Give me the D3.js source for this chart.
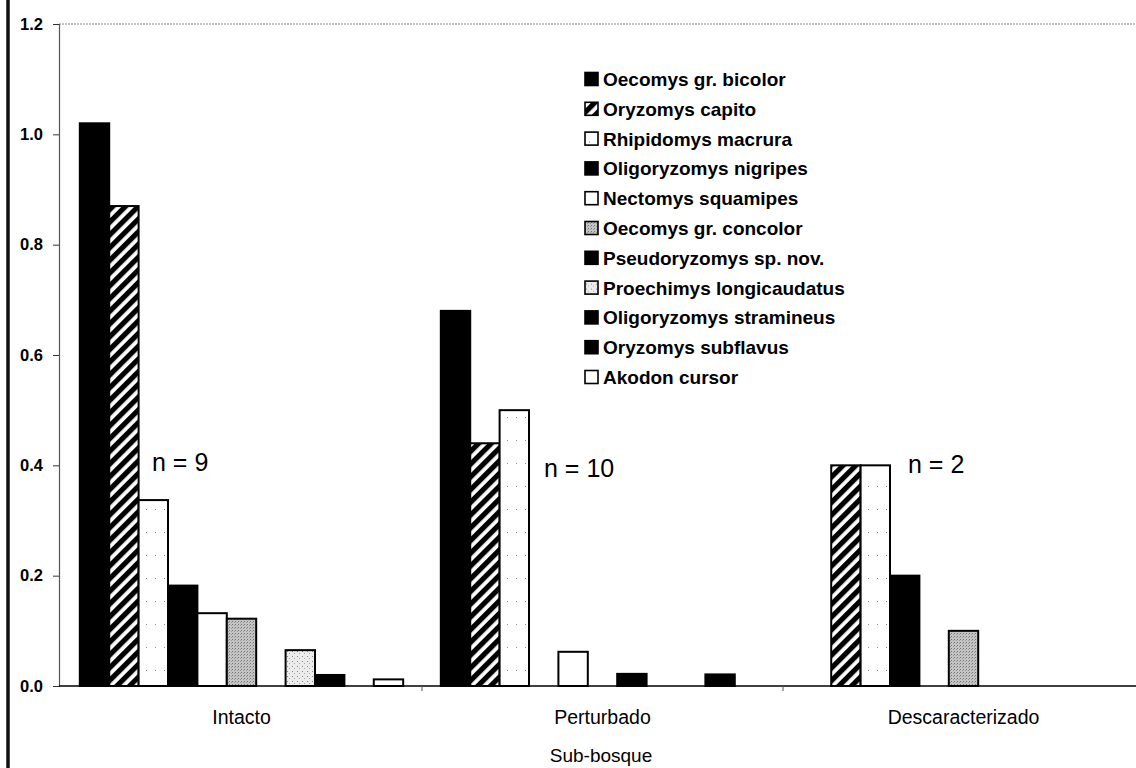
<!DOCTYPE html>
<html><head><meta charset="utf-8">
<script src="https://cdn.jsdelivr.net/npm/d3@7"></script>
<style>
body{margin:0;background:#fff;}
svg{display:block;}
text{font-family:"Liberation Sans",Arial,sans-serif;fill:#000;}
</style></head>
<body>
<svg id="chart" width="1136" height="768"></svg>
<script>
const categories = ["Intacto","Perturbado","Descaracterizado"];
const species = ["Oecomys gr. bicolor","Oryzomys capito","Rhipidomys macrura","Oligoryzomys nigripes","Nectomys squamipes","Oecomys gr. concolor","Pseudoryzomys sp. nov.","Proechimys longicaudatus","Oligoryzomys stramineus","Oryzomys subflavus","Akodon cursor"];
const intacto = [1.02,0.87,0.337,0.182,0.132,0.122,0,0.065,0.02,0,0.012];
const perturbado = [0.68,0.44,0.5,0,0.062,0,0.022,0,0,0.021,0];
const descaracterizado = [0,0.4,0.4,0.2,0,0.1,0,0,0,0,0];
const nLabels = ["n = 9","n = 10","n = 2"];
const yTicks = [0,0.2,0.4,0.6,0.8,1.0,1.2];
const axisTitle = "Sub-bosque";

const seriesValues = [intacto, perturbado, descaracterizado];
const fills = ["#000","url(#hatch)","url(#sparse)","#000","#fff","url(#grey)","#000","url(#lightdots)","#000","#000","#fff"];

const svg = d3.select("#chart");
const defs = svg.append("defs");
const h = defs.append("pattern").attr("id","hatch").attr("patternUnits","userSpaceOnUse")
  .attr("width",9).attr("height",9).attr("patternTransform","rotate(45)");
h.append("rect").attr("width",9).attr("height",9).attr("fill","#fff");
h.append("rect").attr("width",5.2).attr("height",9).attr("fill","#000");
const sp = defs.append("pattern").attr("id","sparse").attr("patternUnits","userSpaceOnUse").attr("width",9).attr("height",23);
sp.append("rect").attr("width",9).attr("height",23).attr("fill","#fff");
sp.append("rect").attr("x",4).attr("y",3).attr("width",1).attr("height",1).attr("fill","#888");
const g = defs.append("pattern").attr("id","grey").attr("patternUnits","userSpaceOnUse").attr("width",3).attr("height",3);
g.append("rect").attr("width",3).attr("height",3).attr("fill","#c4c4c4");
g.append("rect").attr("x",0).attr("y",0).attr("width",1).attr("height",1).attr("fill","#777");
g.append("rect").attr("x",2).attr("y",1).attr("width",1).attr("height",1).attr("fill","#999");
const ld = defs.append("pattern").attr("id","lightdots").attr("patternUnits","userSpaceOnUse").attr("width",5).attr("height",5);
ld.append("rect").attr("width",5).attr("height",5).attr("fill","#ececec");
ld.append("rect").attr("x",1).attr("y",1).attr("width",1).attr("height",1).attr("fill","#888");
ld.append("rect").attr("x",3).attr("y",3).attr("width",1).attr("height",1).attr("fill","#aaa");

const axisX = 59, mLeft = 61, mRight = 1144, mTop = 24, mBottom = 686;
const x0 = d3.scaleBand().domain(categories).range([mLeft,mRight]);
const x1 = d3.scaleBand().domain(species).range([0,x0.bandwidth()]).paddingOuter(0.64);
const y = d3.scaleLinear().domain([0,1.2]).range([mBottom,mTop]);

svg.append("line").attr("x1",8).attr("x2",8).attr("y1",0).attr("y2",768).attr("stroke","#111").attr("stroke-width",3.5);

svg.append("line").attr("x1",axisX).attr("x2",1136).attr("y1",mTop).attr("y2",mTop)
  .attr("stroke","#888").attr("stroke-width",1).attr("stroke-dasharray","2,1");

const groups = svg.append("g").selectAll("g").data(categories).join("g")
  .attr("transform",d=>`translate(${x0(d)},0)`);
groups.selectAll("rect").data((c,i)=>species.map((s,j)=>({s,j,v:seriesValues[i][j]})).filter(d=>d.v>0))
  .join("rect")
  .attr("x",d=>x1(d.s)).attr("width",x1.bandwidth())
  .attr("y",d=>y(d.v)).attr("height",d=>y(0)-y(d.v))
  .attr("fill",d=>fills[d.j]).attr("stroke","#000").attr("stroke-width",2);

const yAxis = d3.axisLeft(y).tickValues(yTicks).tickFormat(d3.format(".1f")).tickSize(6).tickPadding(10);
const ya = svg.append("g").attr("transform",`translate(${axisX},0)`).call(yAxis);
ya.select(".domain").attr("stroke","#555").attr("stroke-width",1.2);
ya.selectAll(".tick line").attr("stroke","#333");
ya.selectAll(".tick text").attr("font-size",16.5).attr("font-weight","bold")
  .style("font-family","'Liberation Sans',Arial,sans-serif");

const xa = svg.append("g").attr("transform",`translate(0,${mBottom})`)
  .call(d3.axisBottom(x0).tickSize(0).tickPadding(24));
xa.select(".domain").attr("stroke","#000").attr("stroke-width",1.5).attr("d",`M${axisX},0H1136`);
xa.selectAll(".tick text").attr("font-size",19.5).style("font-family","'Liberation Sans',Arial,sans-serif");
svg.append("g").selectAll("line").data(categories.slice(1)).join("line")
  .attr("x1",d=>x0(d)).attr("x2",d=>x0(d)).attr("y1",mBottom).attr("y2",mBottom+5).attr("stroke","#555");

svg.append("text").attr("x",601).attr("y",762).attr("text-anchor","middle")
  .attr("font-size",19).text(axisTitle);

const nPos = [[152,471],[544,477],[908,473]];
svg.append("g").selectAll("text").data(nLabels).join("text")
  .attr("x",(d,i)=>nPos[i][0]).attr("y",(d,i)=>nPos[i][1])
  .attr("font-size",25).text(d=>d);

const lg = svg.append("g").attr("transform","translate(585,79)");
const rows = lg.selectAll("g").data(species).join("g").attr("transform",(d,i)=>`translate(0,${i*29.8})`);
rows.append("rect").attr("y",-6.5).attr("width",13).attr("height",13).attr("fill",(d,i)=>fills[i]).attr("stroke","#000").attr("stroke-width",1.6);
rows.append("text").attr("x",18).attr("y",7).attr("font-size",19).attr("font-weight","bold").text(d=>d);
</script>
</body></html>
